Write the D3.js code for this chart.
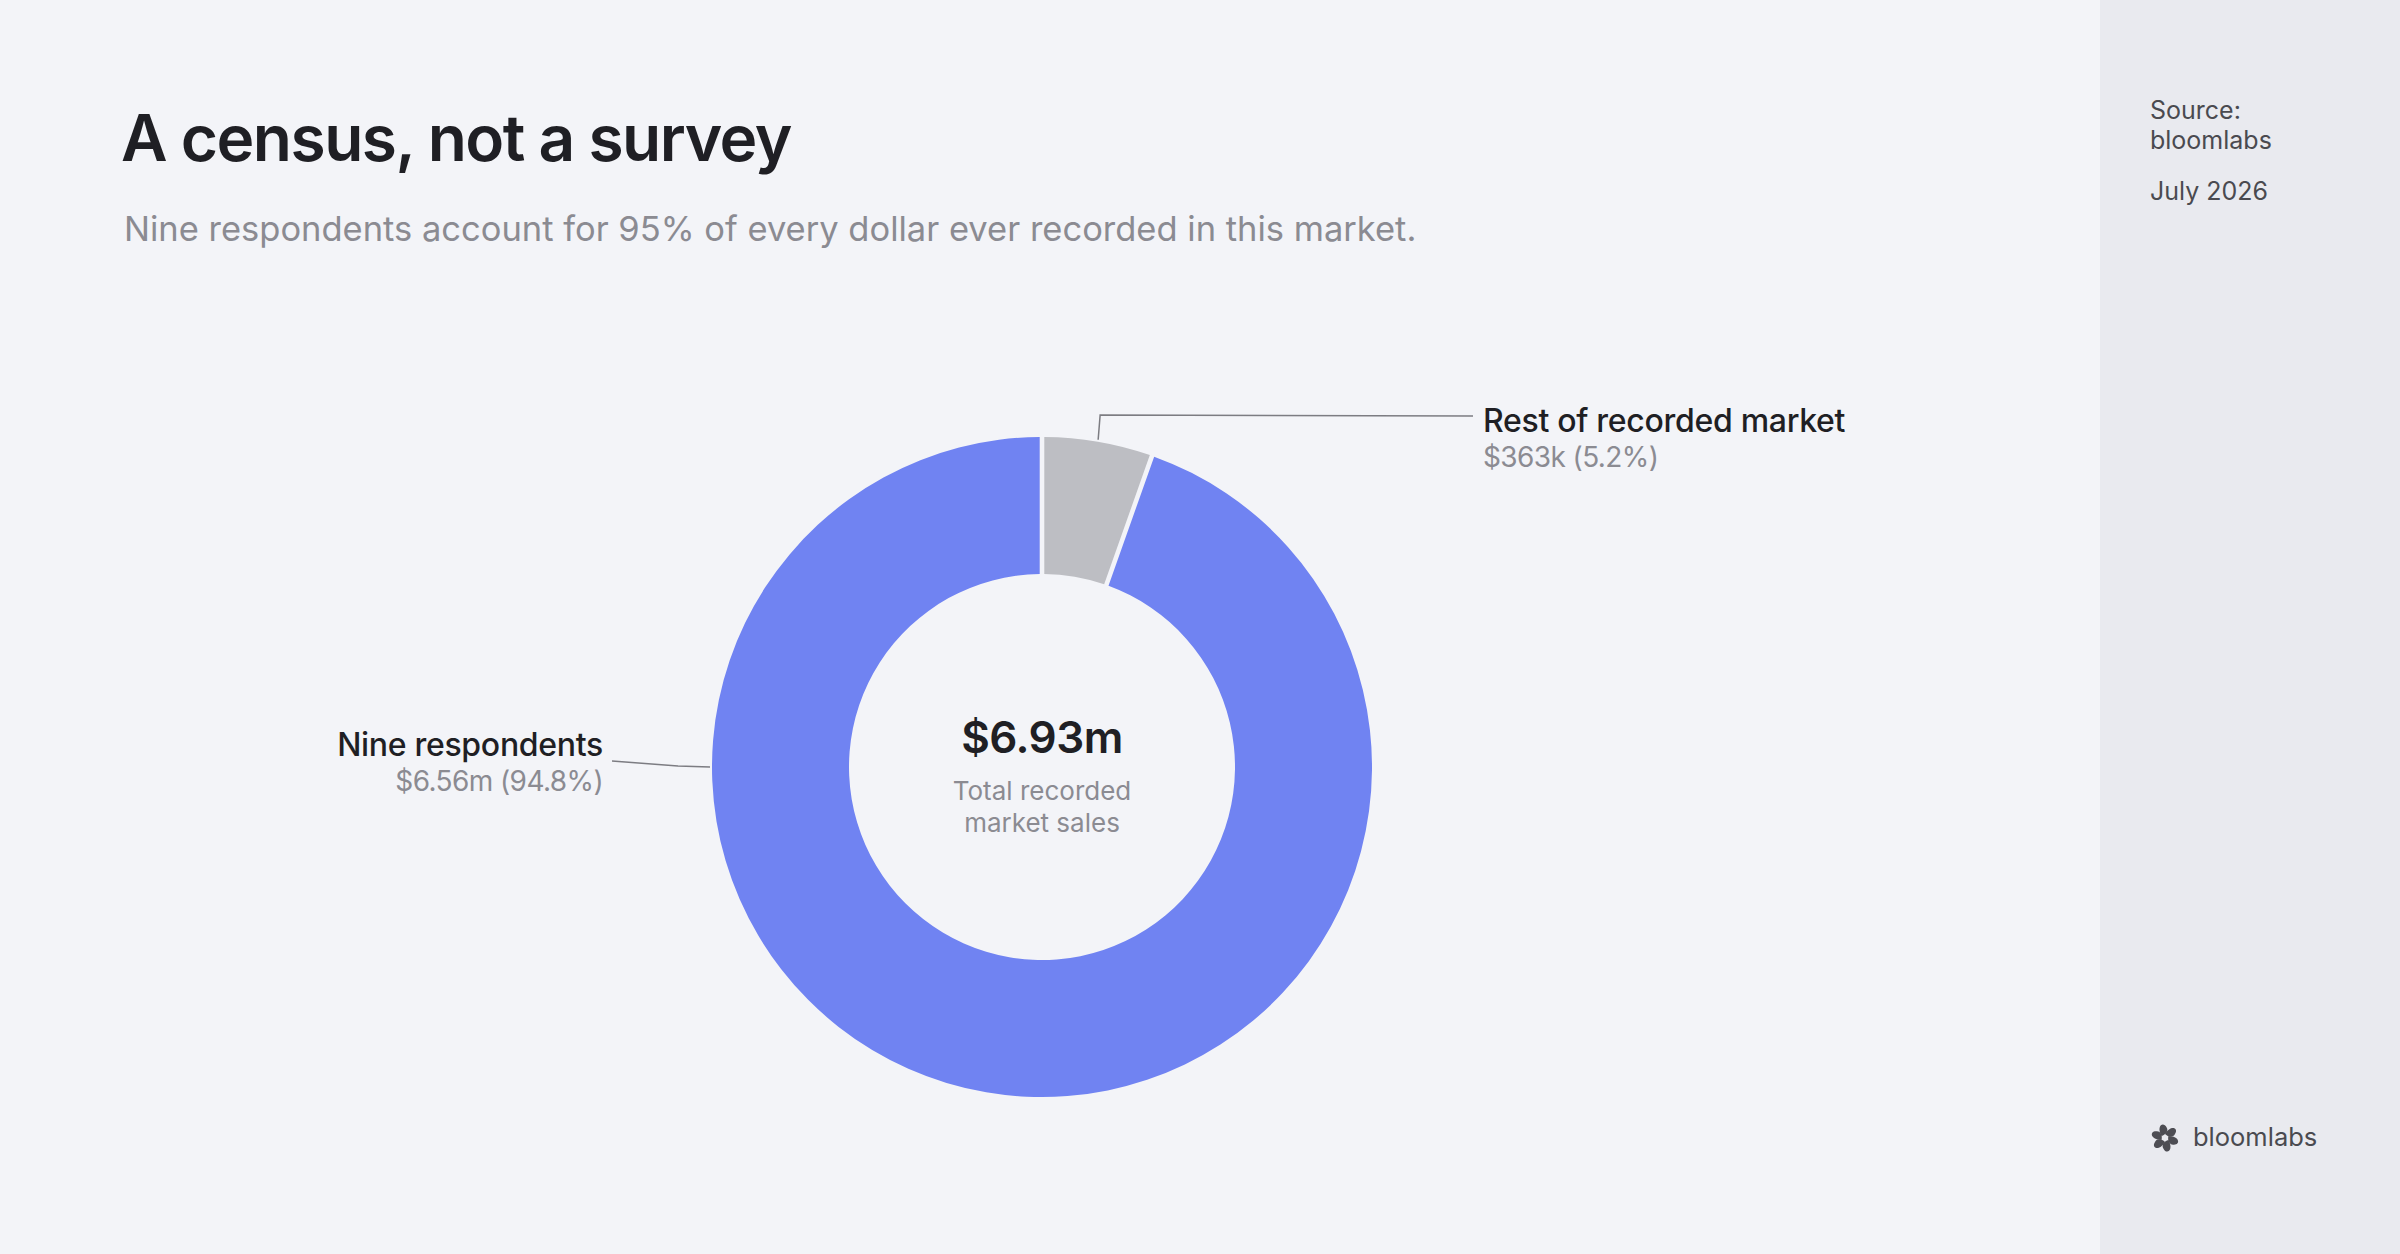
<!DOCTYPE html>
<html><head><meta charset="utf-8">
<script src="https://cdn.jsdelivr.net/npm/d3@7"></script>
<style>
body{margin:0;background:#f3f4f8;font-family:Inter,"Noto Sans",sans-serif}
svg{display:block}
</style></head><body>
<svg id="chart" width="2400" height="1254"></svg>
<script>
const categories = ['Rest of recorded market', 'Nine respondents'];
const values = [363, 6567]; // $k
const valueLabels = ['$363k (5.2%)', '$6.56m (94.8%)'];
const colors = ['#bdbec3', '#7083f2'];
const totalLabel = '$6.93m';

const svg = d3.select('#chart');
svg.append('rect').attr('width', 2400).attr('height', 1254).attr('fill', '#f3f4f8');
svg.append('rect').attr('x', 2100).attr('width', 300).attr('height', 1254).attr('fill', '#e9eaef');

svg.append('text').attr('x', 121).attr('y', 161).attr('font-size', 64).attr('font-weight', 600)
  .attr('fill', '#1f1f24').attr('letter-spacing', -1.5).text('A census, not a survey');
svg.append('text').attr('x', 124).attr('y', 241).attr('font-size', 34.5).attr('fill', '#8b8b92')
  .text('Nine respondents account for 95% of every dollar ever recorded in this market.');

const side = svg.append('g').attr('font-size', 25).attr('fill', '#4a4a50');
side.append('text').attr('x', 2150).attr('y', 119).text('Source:');
side.append('text').attr('x', 2150).attr('y', 149).text('bloomlabs');
side.append('text').attr('x', 2150).attr('y', 200).text('July 2026');

// logo
const logo = svg.append('g').attr('transform', 'translate(2165,1138)');
d3.range(6).forEach(i => {
  logo.append('path')
    .attr('d', 'M0,-4 C6,-14 14,-10 10,-4 C8,0 3,-1 0,-4Z')
    .attr('transform', `rotate(${i * 60})`)
    .attr('fill', '#4d4d53');
});
svg.append('text').attr('x', 2193).attr('y', 1146).attr('font-size', 25.5).attr('fill', '#4a4a50').text('bloomlabs');

// donut
const cx = 1042, cy = 767, outerR = 330, innerR = 193;
const g = svg.append('g').attr('transform', `translate(${cx},${cy})`);
const pie = d3.pie().sort(null).value(d => d).padAngle(0.012);
const arcs = pie(values);
const arc = d3.arc().innerRadius(innerR).outerRadius(outerR);
g.selectAll('path.slice').data(arcs).enter().append('path')
  .attr('class', 'slice').attr('d', arc).attr('fill', (d, i) => colors[i]);

g.append('text').attr('y', -14).attr('text-anchor', 'middle').attr('font-size', 44)
  .attr('font-weight', 600).attr('fill', '#1f1f24').attr('letter-spacing', -0.5).text(totalLabel);
g.append('text').attr('y', 33).attr('text-anchor', 'middle').attr('font-size', 26)
  .attr('fill', '#8b8b92').text('Total recorded');
g.append('text').attr('y', 65).attr('text-anchor', 'middle').attr('font-size', 26)
  .attr('fill', '#8b8b92').text('market sales');

// leader lines and labels
const a0 = (arcs[0].startAngle + arcs[0].endAngle) / 2;
const p0 = [Math.sin(a0) * (outerR + 2), -Math.cos(a0) * (outerR + 2)];
g.append('path').attr('d', `M${p0[0]},${p0[1]} L${p0[0] + 2},-352 L${1473 - cx},-351`)
  .attr('fill', 'none').attr('stroke', '#7c7c82').attr('stroke-width', 1.5);
g.append('text').attr('x', 1483 - cx).attr('y', 432 - cy).attr('font-size', 32).attr('font-weight', 500)
  .attr('fill', '#1f1f24').attr('letter-spacing', -0.3).text(categories[0]);
g.append('text').attr('x', 1483 - cx).attr('y', 467 - cy).attr('font-size', 28)
  .attr('fill', '#8b8b92').attr('letter-spacing', -0.6).text(valueLabels[0]);

g.append('path').attr('d', `M${-outerR - 2},0 L${-outerR - 34},-1 L${612 - cx},${761 - cy}`)
  .attr('fill', 'none').attr('stroke', '#7c7c82').attr('stroke-width', 1.5);
g.append('text').attr('x', 603 - cx).attr('y', 756 - cy).attr('text-anchor', 'end').attr('font-size', 32)
  .attr('font-weight', 500).attr('fill', '#1f1f24').attr('letter-spacing', -0.3).text(categories[1]);
g.append('text').attr('x', 603 - cx).attr('y', 791 - cy).attr('text-anchor', 'end').attr('font-size', 28)
  .attr('fill', '#8b8b92').attr('letter-spacing', -0.6).text(valueLabels[1]);
</script>
</body></html>
